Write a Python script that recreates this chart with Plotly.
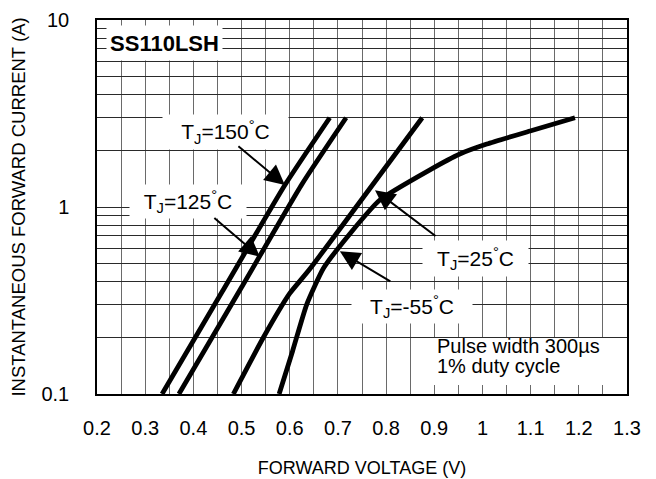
import math
import plotly.graph_objects as go

# ---- data ----
v_150 = [0.335, 0.46, 0.59, 0.683]
i_150 = [0.10, 0.353, 1.31, 3.0]

v_125 = [0.370, 0.50, 0.625, 0.717]
i_125 = [0.10, 0.372, 1.32, 3.0]

v_25 = [0.483, 0.545, 0.600, 0.640, 0.875]
i_25 = [0.10, 0.20, 0.345, 0.46, 3.0]

v_m55 = [0.578, 0.606, 0.635, 0.670, 0.725, 0.787, 0.891, 0.953, 1.009, 1.099, 1.192]
i_m55 = [0.10, 0.17, 0.30, 0.47, 0.72, 1.09, 1.58, 1.92, 2.17, 2.55, 3.0]

x_tickvals = [round(0.2 + 0.05 * k, 2) for k in range(23)]
x_ticktext = ["0.2", "", "0.3", "", "0.4", "", "0.5", "", "0.6", "", "0.7", "", "0.8", "",
              "0.9", "", "1", "", "1.1", "", "1.2", "", "1.3"]
y_tickvals = [m * d for d in (0.1, 1) for m in range(1, 10)] + [10]
y_ticktext = ["0.1"] + [""] * 8 + ["1"] + [""] * 8 + ["10"]

FONT = "Liberation Sans, Arial, sans-serif"

fig = go.Figure()
for vx, iy in [(v_150, i_150), (v_125, i_125), (v_25, i_25), (v_m55, i_m55)]:
    fig.add_trace(go.Scatter(x=vx, y=iy, mode="lines",
                             line=dict(color="black", width=4.8, shape="spline", smoothing=0.5),
                             showlegend=False, hoverinfo="skip"))

fig.update_layout(
    width=656, height=479,
    margin=dict(l=89, r=37, t=12, b=93, autoexpand=False),
    paper_bgcolor="white", plot_bgcolor="white",
    font=dict(family=FONT, color="black", size=20),
    showlegend=False,
)
fig.update_xaxes(
    range=[0.2, 1.3], tickmode="array", tickvals=x_tickvals, ticktext=x_ticktext,
    showgrid=True, gridcolor="#6a6a6a", gridwidth=1.2,
    showline=True, linecolor="black", linewidth=1.5, mirror=True,
    ticks="", ticklabelstandoff=15, tickfont=dict(size=20),
    zeroline=False, automargin=False,
    title=dict(text="FORWARD VOLTAGE (V)", font=dict(size=18), standoff=24),
)
fig.update_yaxes(
    type="log", range=[-1, 1], tickmode="array", tickvals=y_tickvals, ticktext=y_ticktext,
    showgrid=True, gridcolor="#2a2a2a", gridwidth=1.2,
    showline=True, linecolor="black", linewidth=1.5, mirror=True,
    ticks="", ticklabelstandoff=22, tickfont=dict(size=20),
    zeroline=False, automargin=False,
    title=dict(text="INSTANTANEOUS FORWARD CURRENT (A)", font=dict(size=18.5), standoff=14),
)

# text boxes (paper coordinates)
boxes = [
    ("<b>SS110LSH</b>", 0.127, 0.939, 115, 34, 22),
    ("T<sub>J</sub>=150<sup>°</sup>C", 0.2425, 0.700, 125, 34, 21),
    ("T<sub>J</sub>=125<sup>°</sup>C", 0.1717, 0.515, 116, 33, 21),
    ("T<sub>J</sub>=25<sup>°</sup>C", 0.714, 0.362, 105, 35, 21),
    ("T<sub>J</sub>=-55<sup>°</sup>C", 0.594, 0.234, 120, 33, 21),
]
for txt, xp, yp, w, h, fs in boxes:
    fig.add_annotation(text=txt, xref="paper", yref="paper", x=xp, y=yp,
                       xanchor="center", yanchor="middle", showarrow=False,
                       width=w, height=h, bgcolor="white", borderpad=0,
                       font=dict(size=fs, family=FONT, color="black"))

# pulse-width note
fig.add_shape(type="rect", xref="paper", yref="paper", x0=0.628, x1=0.997, y0=0.024, y1=0.150,
              fillcolor="white", line=dict(width=0), layer="above")
fig.add_annotation(text="Pulse width 300µs", xref="paper", yref="paper", x=0.638, y=0.1278,
                   xanchor="left", yanchor="middle", showarrow=False,
                   font=dict(size=20, family=FONT, color="black"))
fig.add_annotation(text="1% duty cycle", xref="paper", yref="paper", x=0.638, y=0.0757,
                   xanchor="left", yanchor="middle", showarrow=False,
                   font=dict(size=20, family=FONT, color="black"))

# arrows (tip on the curve, tail offset in pixels)
arrows = [
    (0.590, 1.31, -48, -40),
    (0.538, 0.542, -47, -40),
    (0.777, 1.23, 62, 47),
    (0.704, 0.58, 52, 31),
]
for xv, yv, ax, ay in arrows:
    fig.add_annotation(x=xv, y=math.log10(yv), yref="y", xref="x", text="", showarrow=True,
                       ax=ax, ay=ay, axref="pixel", ayref="pixel",
                       arrowhead=2, arrowsize=2, arrowwidth=2, arrowcolor="black", standoff=0)

fig.write_html("out.html")
